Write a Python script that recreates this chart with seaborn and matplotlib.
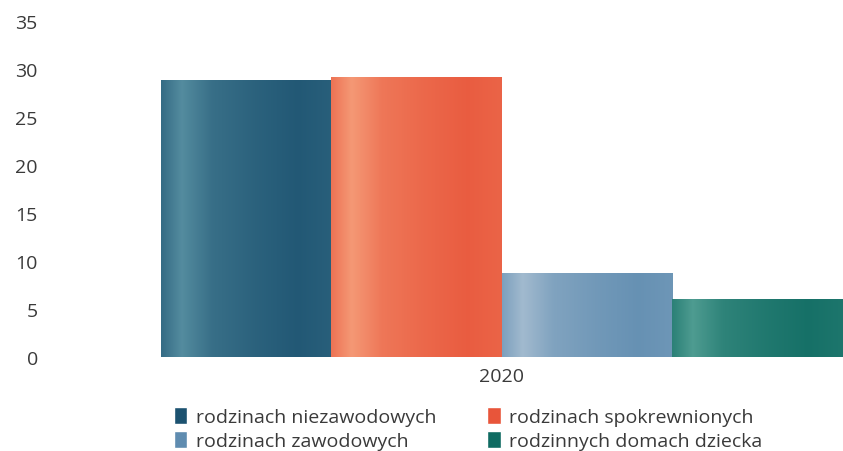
import numpy as np
import pandas as pd
import seaborn as sns
import matplotlib.pyplot as plt
from matplotlib.colors import to_rgb
from matplotlib.patches import Patch

# data
years = ['2020']
categories = ['rodzinach niezawodowych', 'rodzinach spokrewnionych',
              'rodzinach zawodowych', 'rodzinnych domach dziecka']
values = [28.9, 29.2, 8.7, 6.0]

dark = ['#1c5270', '#e8553a', '#5f8cb0', '#0f6b62']
light = ['#5a92a4', '#f6a07c', '#a9bfd2', '#55a196']

df = pd.DataFrame({'year': years * len(categories), 'group': categories, 'value': values})

sns.set_theme(style='white')
plt.rcParams['font.family'] = ['Open Sans', 'DejaVu Sans']

fig = plt.figure(figsize=(8.43, 4.52), dpi=100)
ax = fig.add_axes([60 / 843, 94 / 452, 783 / 843, 336 / 452])

sns.barplot(data=df, x='year', y='value', hue='group', hue_order=categories,
            palette=dark, width=0.8, saturation=1, legend=False, ax=ax)

# shaded look of the original bars
knots = [0.0, 0.12, 0.3, 0.55, 0.8, 1.0]
shade = [0.4, 0.9, 0.45, 0.25, 0.1, 0.2]
xs = np.linspace(0, 1, 200)
t = np.interp(xs, knots, shade)
for patch, d, l in zip(ax.patches, dark, light):
    x0, y0 = patch.get_x(), patch.get_y()
    w, h = patch.get_width(), patch.get_height()
    dc, lc = np.array(to_rgb(d)), np.array(to_rgb(l))
    img = (dc[None, :] * (1 - t[:, None]) + lc[None, :] * t[:, None])[None, :, :]
    im = ax.imshow(img, extent=[x0, x0 + w, y0, y0 + h], aspect='auto',
                   interpolation='bilinear', zorder=patch.get_zorder() + 0.1)
    im.set_clip_path(patch)

ax.set_xlim(-0.518, 0.4)
ax.set_ylim(0, 35)
ax.set_yticks(range(0, 36, 5))
ax.set_xlabel('')
ax.set_ylabel('')
sns.despine(ax=ax, left=True, bottom=True)
ax.tick_params(axis='both', length=0, labelsize=14, labelcolor='#3a3a3a')
ax.tick_params(axis='x', pad=7)
ax.tick_params(axis='y', pad=16)

order = [0, 2, 1, 3]
handles = [Patch(facecolor=dark[i]) for i in order]
labels = [categories[i] for i in order]
fig.legend(handles, labels, ncol=2, loc='upper left', bbox_to_anchor=(164 / 843, 1 - 398 / 452),
           frameon=False, fontsize=14, handlelength=0.7, handleheight=1.0, handletextpad=0.45,
           columnspacing=2.6, labelspacing=0.25, labelcolor='#3a3a3a', borderpad=0)

plt.savefig('out.png', dpi=100)
